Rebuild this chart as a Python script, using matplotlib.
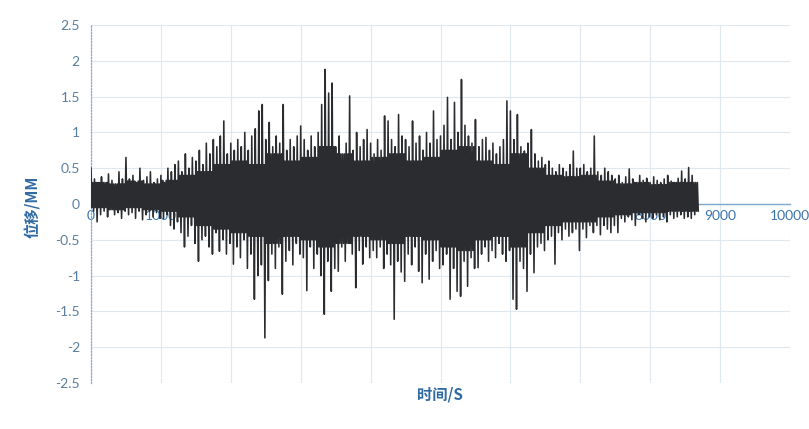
import numpy as np
import matplotlib
matplotlib.use("Agg")
from matplotlib import pyplot as plt
from matplotlib.ticker import FuncFormatter

# envelope of the record, one (upper, lower) pair per 50 s bin
bin_width = 50
hi = [0.5, 0.35, 0.3, 0.38, 0.3, 0.42, 0.33, 0.28, 0.45, 0.35,
      0.65, 0.35, 0.4, 0.3, 0.5, 0.33, 0.38, 0.45, 0.3, 0.35,
      0.4, 0.3, 0.5, 0.45, 0.55, 0.6, 0.45, 0.7, 0.5, 0.65,
      0.6, 0.75, 0.55, 0.85, 0.7, 0.9, 0.8, 0.95, 1.16, 0.7,
      0.85, 0.75, 0.9, 0.8, 1.0, 0.75, 0.95, 1.05, 1.3, 1.39,
      0.9, 1.14, 0.8, 0.95, 0.85, 1.39, 0.75, 0.9, 0.8, 0.95,
      1.09, 0.9, 0.75, 0.95, 0.8, 1.0, 1.39, 1.88, 1.55, 1.69,
      0.8, 0.95, 0.7, 0.85, 1.51, 0.75, 1.0, 0.8, 0.9, 1.04,
      0.85, 0.7, 0.9, 0.75, 1.23, 1.16, 0.9, 0.8, 1.25, 0.95,
      0.9, 0.8, 1.16, 0.85, 0.95, 0.75, 1.0, 0.85, 1.3, 0.9,
      0.95, 1.1, 1.49, 0.9, 1.42, 1.0, 1.74, 1.1, 0.95, 0.85,
      1.18, 0.8, 0.9, 0.93, 0.75, 0.85, 0.7, 0.8, 0.9, 1.44,
      1.3, 0.9, 1.25, 0.8, 0.74, 0.85, 1.04, 0.7, 0.6, 0.65,
      0.55, 0.6, 0.5, 0.45, 0.55, 0.5, 0.45, 0.55, 0.74, 0.5,
      0.5, 0.55, 0.45, 0.5, 0.95, 0.45, 0.4, 0.5, 0.45, 0.4,
      0.35, 0.4, 0.3, 0.38, 0.49, 0.35, 0.3, 0.4, 0.33, 0.36,
      0.3, 0.38, 0.33, 0.3, 0.35, 0.4, 0.32, 0.3, 0.36, 0.46,
      0.35, 0.51, 0.4, 0.3]
lo = [-0.1, -0.25, -0.15, -0.1, -0.18, -0.08, -0.15, -0.12, -0.2, -0.1,
      -0.15, -0.12, -0.2, -0.1, -0.22, -0.15, -0.1, -0.18, -0.12, -0.2,
      -0.2, -0.15, -0.3, -0.35, -0.25, -0.4, -0.6, -0.45, -0.3, -0.55,
      -0.8, -0.5, -0.45, -0.6, -0.7, -0.4, -0.66, -0.5, -0.7, -0.55,
      -0.84, -0.6, -0.75, -0.5, -0.9, -0.7, -1.33, -1.0, -0.85, -1.87,
      -1.07, -0.7, -0.9, -0.6, -1.26, -0.8, -0.65, -0.85, -0.55, -0.7,
      -0.75, -1.21, -0.6, -0.9, -0.7, -1.0, -1.54, -0.8, -1.22, -0.9,
      -0.94, -0.6, -0.8, -0.55, -0.7, -1.17, -0.65, -0.84, -0.6, -0.75,
      -0.65, -0.75, -0.6, -0.9, -0.7, -0.85, -1.61, -0.8, -0.95, -1.08,
      -0.7, -0.85, -0.6, -0.94, -1.1, -0.7, -1.05, -0.8, -0.65, -0.9,
      -0.85, -0.7, -1.33, -0.9, -1.22, -1.29, -0.8, -1.15, -0.75, -0.9,
      -0.89, -0.7, -0.6, -0.8, -0.65, -0.75, -0.55, -0.7, -0.8, -0.65,
      -1.33, -1.47, -0.8, -0.9, -1.22, -0.7, -0.96, -0.6, -0.55, -0.65,
      -0.5, -0.45, -0.84, -0.4, -0.5, -0.35, -0.45, -0.4, -0.35, -0.65,
      -0.35, -0.47, -0.3, -0.4, -0.3, -0.43, -0.3, -0.35, -0.4, -0.3,
      -0.4, -0.2, -0.25, -0.18, -0.22, -0.3, -0.15, -0.2, -0.25, -0.18,
      -0.2, -0.15, -0.22, -0.18, -0.25, -0.15, -0.2, -0.18, -0.15, -0.2,
      -0.18, -0.2, -0.15, -0.1]

# the dark core of the band, one (upper, lower) pair per 250 s
core_width = 250
core_hi = [0.3, 0.28, 0.32, 0.28, 0.33, 0.4, 0.45, 0.55, 0.6, 0.55,
           0.7, 0.6, 0.65, 0.8, 0.7, 0.6, 0.65, 0.7, 0.6, 0.65,
           0.75, 0.8, 0.6, 0.55, 0.7, 0.5, 0.4, 0.38, 0.4, 0.32,
           0.28, 0.3, 0.27, 0.3, 0.3]
core_lo = [-0.05, -0.08, -0.05, -0.08, -0.1, -0.18, -0.3, -0.35, -0.4, -0.45,
           -0.55, -0.45, -0.5, -0.6, -0.55, -0.45, -0.5, -0.55, -0.45, -0.5,
           -0.6, -0.65, -0.5, -0.45, -0.6, -0.4, -0.3, -0.25, -0.25, -0.18,
           -0.15, -0.12, -0.12, -0.1, -0.1]

x_ticks = [0, 1000, 2000, 3000, 4000, 5000, 6000, 7000, 8000, 9000, 10000]
y_ticks = [-2.5, -2, -1.5, -1, -0.5, 0, 0.5, 1, 1.5, 2, 2.5]

plt.rcParams['font.family'] = ['Lato', 'Noto Sans CJK SC', 'DejaVu Sans']
plt.rcParams['axes.unicode_minus'] = False


def series():
    # four samples per bin: spike up, core low, core high, spike down
    t = []
    d = []
    step = bin_width / 4
    for i in range(len(hi)):
        c = (i * bin_width) // core_width
        vals = [hi[i], core_lo[c], core_hi[c], lo[i]]
        for k in range(4):
            t.append(i * bin_width + k * step)
            d.append(vals[k])
    return np.array(t), np.array(d)


def main():
    fig = plt.figure(figsize=(8.09, 4.29), dpi=100)
    ax = fig.add_axes([91 / 809, 1 - 383 / 429, 699 / 809, 358 / 429])

    t, d = series()
    ax.plot(t, d, color='#2b2c30', lw=1.15, zorder=3)

    ax.set_xlim(0, 10000)
    ax.set_ylim(-2.5, 2.5)
    ax.set_xticks(x_ticks)
    ax.set_yticks(y_ticks)
    ax.yaxis.set_major_formatter(FuncFormatter(lambda v, p: '%g' % v))
    ax.grid(True, color='#dfe7ef', lw=0.8, zorder=0)

    for s in ['top', 'right']:
        ax.spines[s].set_visible(False)
    ax.spines['bottom'].set_position(('data', 0))
    ax.spines['bottom'].set_color('#7fa8cc')
    ax.spines['bottom'].set_linewidth(1.0)
    ax.spines['bottom'].set_zorder(2)
    ax.spines['left'].set_color('#8fa9c4')
    ax.spines['left'].set_linestyle((0, (1, 1.5)))
    ax.spines['left'].set_linewidth(0.9)

    ax.tick_params(axis='x', length=0, pad=4, labelsize=10, labelcolor='#3a74ad')
    ax.tick_params(axis='y', length=0, pad=8, labelsize=10, labelcolor='#5a7e9f')

    fig.text(440 / 809, 1 - 395 / 429, '时间/S', ha='center', va='center',
             fontsize=11, fontweight='bold', color='#2f6aa3',
             family=['Noto Sans CJK SC', 'DejaVu Sans'])
    fig.text(33 / 809, 1 - 207 / 429, '位移/MM', ha='center', va='center',
             rotation=90, fontsize=11, fontweight='bold', color='#2f6aa3',
             family=['Noto Sans CJK SC', 'DejaVu Sans'])

    fig.savefig('out.png', dpi=100)


if __name__ == "__main__":
    main()
